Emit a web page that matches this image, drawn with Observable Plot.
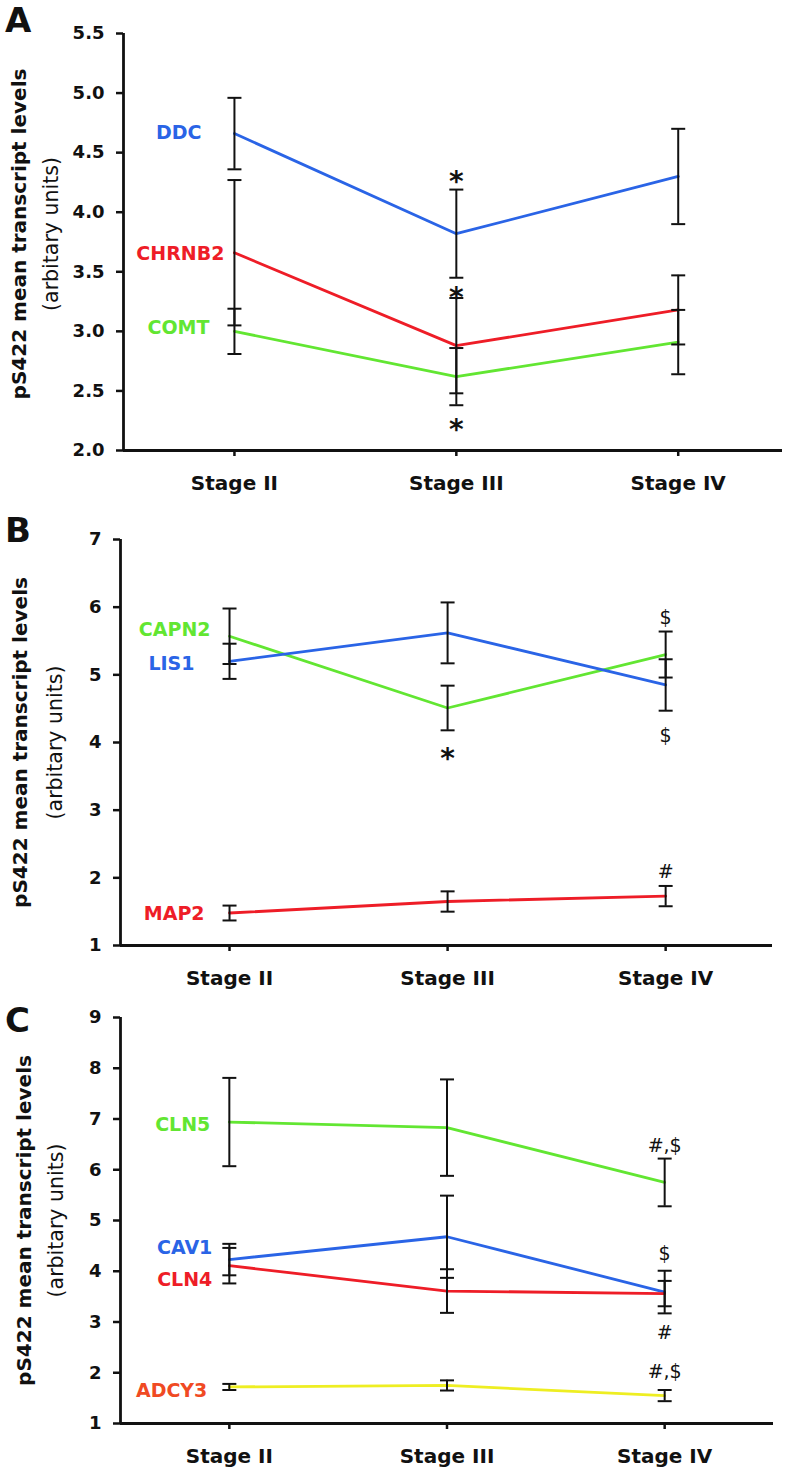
<!DOCTYPE html>
<html><head><meta charset="utf-8">
<script src="https://cdn.jsdelivr.net/npm/d3@7"></script>
<script src="https://cdn.jsdelivr.net/npm/@observablehq/plot@0.6"></script>
<style>
body{margin:0;background:#fff;}
#wrap{position:relative;width:792px;height:1470px;overflow:hidden;font-family:"DejaVu Sans",sans-serif;color:#111;}
.panel{position:absolute;left:0;}
.letter{position:absolute;left:5px;font:bold 34px "DejaVu Sans";line-height:1;color:#111;}
</style></head><body><div id="wrap"></div>
<script>
// ---------- data ----------
const stages = ["Stage II", "Stage III", "Stage IV"];

// Panel A
const aGenes = ["DDC", "CHRNB2", "COMT"];
const aMeans = [[4.66, 3.82, 4.30], [3.66, 2.88, 3.18], [3.00, 2.62, 2.91]];
const aErrors = [[0.30, 0.37, 0.40], [0.61, 0.40, 0.29], [0.19, 0.24, 0.27]];
const aTicks = [2.0, 2.5, 3.0, 3.5, 4.0, 4.5, 5.0, 5.5];
const aNoteText = ["*", "*", "*"];
const aNoteGene = ["DDC", "CHRNB2", "COMT"];
const aNoteStage = ["Stage III", "Stage III", "Stage III"];
const aNoteSide = ["above", "above", "below"];

// Panel B
const bGenes = ["CAPN2", "LIS1", "MAP2"];
const bMeans = [[5.57, 4.51, 5.30], [5.20, 5.62, 4.85], [1.48, 1.65, 1.73]];
const bErrors = [[0.41, 0.33, 0.34], [0.26, 0.45, 0.38], [0.11, 0.15, 0.15]];
const bTicks = [1, 2, 3, 4, 5, 6, 7];
const bNoteText = ["*", "$", "$", "#"];
const bNoteGene = ["CAPN2", "CAPN2", "LIS1", "MAP2"];
const bNoteStage = ["Stage III", "Stage IV", "Stage IV", "Stage IV"];
const bNoteSide = ["below", "above", "below", "above"];

// Panel C
const cGenes = ["CLN5", "CAV1", "CLN4", "ADCY3"];
const cMeans = [[6.94, 6.83, 5.75], [4.23, 4.68, 3.59], [4.11, 3.61, 3.56], [1.72, 1.75, 1.55]];
const cErrors = [[0.87, 0.95, 0.47], [0.31, 0.81, 0.42], [0.35, 0.43, 0.25], [0.06, 0.10, 0.11]];
const cTicks = [1, 2, 3, 4, 5, 6, 7, 8, 9];
const cNoteText = ["#,$", "$", "#", "#,$"];
const cNoteGene = ["CLN5", "CAV1", "CAV1", "ADCY3"];
const cNoteStage = ["Stage IV", "Stage IV", "Stage IV", "Stage IV"];
const cNoteSide = ["above", "above", "below", "above"];

const yTitle1 = "pS422 mean transcript levels";
const yTitle2 = "(arbitary units)";

// ---------- styles / layout ----------
const BLUE = "#2a64e6", RED = "#ee1d27", GREEN = "#62e632", YELLOW = "#eeee22", ORANGE = "#f04a23";
const FONT = "DejaVu Sans";

const capSymbol = {
  draw(ctx, size) {
    const w = Math.sqrt(size / Math.PI);
    ctx.moveTo(-w, 0);
    ctx.lineTo(w, 0);
  }
};

function panel(cfg) {
  const {genes, means, errors, ticks, tickFmt, notes, L} = cfg;
  const recs = [];
  genes.forEach((g, i) => stages.forEach((s, j) =>
    recs.push({gene: g, stage: s, x: j, mean: means[i][j], err: errors[i][j]})));
  const caps = recs.flatMap(d => [{x: d.x, y: d.mean - d.err}, {x: d.x, y: d.mean + d.err}]);

  const marks = [
    Plot.ruleX([L.xDomain[0]], {stroke: "#111", strokeWidth: 2.8}),
    Plot.ruleY([ticks[0]], {stroke: "#111", strokeWidth: 2.8}),
    Plot.axisY({ticks, tickFormat: tickFmt, tickSize: 7, tickPadding: 12, fontSize: 18,
      fontWeight: "bold", strokeWidth: 2.5, label: null}),
    Plot.axisX({ticks: [0, 1, 2], tickFormat: i => stages[i], tickSize: 6, tickPadding: 19,
      fontSize: 20, fontWeight: "bold", strokeWidth: 2.5, label: null}),
    Plot.line(recs, {x: "x", y: "mean", z: "gene", stroke: "gene", strokeWidth: 2.8}),
    Plot.ruleX(recs, {x: "x", y1: d => d.mean - d.err, y2: d => d.mean + d.err, stroke: "#111", strokeWidth: 2}),
    Plot.dot(caps, {x: "x", y: "y", r: 7, symbol: capSymbol, stroke: "#111", strokeWidth: 2, fill: "none"}),
    Plot.text([yTitle1], {frameAnchor: "left", textAnchor: "middle", lineAnchor: "middle", rotate: -90,
      dx: L.t1x - L.marginLeft, dy: L.tdy, fontSize: 20, fontWeight: "bold", fill: "#111"}),
    Plot.text([yTitle2], {frameAnchor: "left", textAnchor: "middle", lineAnchor: "middle", rotate: -90,
      dx: L.t2x - L.marginLeft, dy: L.tdy, fontSize: 20.5, fontWeight: "normal", fill: "#111"})
  ];

  genes.forEach((g, i) => {
    const first = recs.filter(d => d.gene === g && d.x === 0);
    marks.push(Plot.text(first, {x: "x", y: "mean", text: () => g, textAnchor: "end",
      dx: L.labelNudge[i][0], dy: L.labelNudge[i][1], fill: cfg.labelColors[i],
      fontSize: 19, fontWeight: "bold"}));
  });

  notes.text.forEach((t, k) => {
    const r = recs.filter(d => d.gene === notes.gene[k] && d.stage === notes.stage[k]);
    const above = notes.side[k] === "above";
    const star = t === "*";
    const gap = L.noteGap[k];
    marks.push(Plot.text(r, {x: "x", y: d => above ? d.mean + d.err : d.mean - d.err,
      text: () => t, dy: (above ? -gap : gap) + (star ? 7 : 0),
      fontSize: star ? 28 : 19, fontWeight: star ? "bold" : "normal", fill: "#111"}));
  });

  return Plot.plot({
    width: 792,
    height: L.height,
    marginLeft: L.marginLeft,
    marginRight: L.marginRight,
    marginTop: L.marginTop,
    marginBottom: L.marginBottom,
    style: {fontFamily: FONT, color: "#111", background: "transparent", overflow: "visible"},
    x: {domain: L.xDomain, axis: null},
    y: {domain: [ticks[0], ticks[ticks.length - 1]], axis: null},
    color: {domain: genes, range: cfg.lineColors},
    marks
  });
}

const panels = [
  {letter: "A", letterTop: 3,
   genes: aGenes, means: aMeans, errors: aErrors, ticks: aTicks, tickFmt: d3.format(".1f"),
   lineColors: [BLUE, RED, GREEN], labelColors: [BLUE, RED, GREEN],
   notes: {text: aNoteText, gene: aNoteGene, stage: aNoteStage, side: aNoteSide},
   L: {top: 0, height: 500, marginTop: 33, marginBottom: 50, marginLeft: 123, marginRight: 10,
       xDomain: [-0.5, 2.47], t1x: 19, t2x: 51, tdy: -8,
       labelNudge: [[-33, -1], [-10, 1], [-25, -3]], noteGap: [15, 7, 18]}},
  {letter: "B", letterTop: 513,
   genes: bGenes, means: bMeans, errors: bErrors, ticks: bTicks, tickFmt: d3.format("d"),
   lineColors: [GREEN, BLUE, RED], labelColors: [GREEN, BLUE, RED],
   notes: {text: bNoteText, gene: bNoteGene, stage: bNoteStage, side: bNoteSide},
   L: {top: 500, height: 495, marginTop: 39, marginBottom: 50, marginLeft: 120, marginRight: 20,
       xDomain: [-0.5, 2.49], t1x: 20, t2x: 55, tdy: 0,
       labelNudge: [[-19, -6], [-35, 3], [-25, 1]], noteGap: [22, 14, 25, 14]}},
  {letter: "C", letterTop: 1003,
   genes: cGenes, means: cMeans, errors: cErrors, ticks: cTicks, tickFmt: d3.format("d"),
   lineColors: [GREEN, BLUE, RED, YELLOW], labelColors: [GREEN, BLUE, RED, ORANGE],
   notes: {text: cNoteText, gene: cNoteGene, stage: cNoteStage, side: cNoteSide},
   L: {top: 995, height: 475, marginTop: 22, marginBottom: 47, marginLeft: 120, marginRight: 19,
       xDomain: [-0.5, 2.5], t1x: 24, t2x: 56, tdy: 0,
       labelNudge: [[-19, 3], [-17, -12], [-17, 14], [-22, 4]], noteGap: [13, 17, 20, 18]}}
];

const wrap = document.getElementById("wrap");
panels.forEach(p => {
  const holder = document.createElement("div");
  holder.className = "panel";
  holder.style.top = p.L.top + "px";
  holder.appendChild(panel(p));
  wrap.appendChild(holder);
  const letter = document.createElement("div");
  letter.className = "letter";
  letter.style.top = p.letterTop + "px";
  letter.textContent = p.letter;
  wrap.appendChild(letter);
});
</script>
</body></html>
